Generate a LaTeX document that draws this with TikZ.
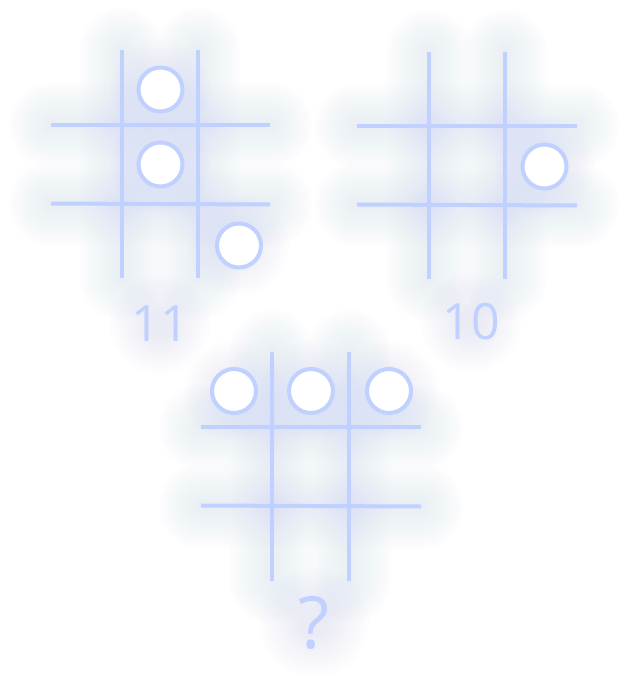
\documentclass[tikz,border=0pt]{standalone}
\usepackage{fontspec}
\setmainfont{Open Sans}
\definecolor{linec}{RGB}{192,208,255}
\definecolor{glowc}{RGB}{178,188,245}
\tikzset{
  gridline/.style={linec, line width=4pt},
  mark circle/.style={draw=linec, line width=4pt, fill=white},
  label text/.style={text=linec, inner sep=0pt, font=\fontsize{50}{50}\selectfont},
  glow/.style={glowc, line cap=round, opacity=0.015},
}
\newcommand\glowline[2]{%
  \foreach \w in {84,78,...,6}{\draw[glow, line width=\w pt] #1 -- #2;}}
\newcommand\glowdot[2]{%
  \foreach \r in {50,46,...,14}{\fill[glowc, opacity=0.022] #1 circle (\r*#2 pt);}}
\begin{document}
\begin{tikzpicture}[x=1pt,y=-1pt]
\useasboundingbox (0,0) rectangle (628,700);
\fill[white] (0,0) rectangle (628,700);
% ---------- glow ----------
% grid 1
\glowline{(122,50)}{(122,278)}
\glowline{(198,50)}{(198,278)}
\glowline{(51,125)}{(270,125)}
\glowline{(51,203.5)}{(270,204.5)}
\glowdot{(160.5,89.5)}{1}
\glowdot{(160.5,164.5)}{1}
\glowdot{(239,245.5)}{1}
\glowdot{(160,324)}{1}
% grid 2
\glowline{(429,52)}{(429,279)}
\glowline{(505,52)}{(505,279)}
\glowline{(357,126)}{(577,126)}
\glowline{(357,204.5)}{(577,205.5)}
\glowdot{(544.5,166.5)}{1}
\glowdot{(471,322)}{1}
% grid 3
\glowline{(272,352)}{(272,581)}
\glowline{(349,352)}{(349,581)}
\glowline{(201,427)}{(421,427)}
\glowline{(201,505.5)}{(421,506.5)}
\glowdot{(234,391)}{1}
\glowdot{(311,391)}{1}
\glowdot{(389,391)}{1}
\glowdot{(314,622)}{1.1}
% ---------- grid 1 ----------
\draw[gridline] (122,50) -- (122,278);
\draw[gridline] (198,50) -- (198,278);
\draw[gridline] (51,125) -- (270,125);
\draw[gridline] (51,203.5) -- (270,204.5);
\node[mark circle, circle, minimum size=44pt, inner sep=0pt] (a1) at (160.5,89.5) {};
\node[mark circle, circle, minimum size=44pt, inner sep=0pt] (a2) at (160.5,164.5) {};
\node[mark circle, circle, minimum size=44pt, inner sep=0pt] (a3) at (239,245.5) {};
\node[label text] (l1) at (160,324) {11};
% ---------- grid 2 ----------
\draw[gridline] (429,52) -- (429,279);
\draw[gridline] (505,52) -- (505,279);
\draw[gridline] (357,126) -- (577,126);
\draw[gridline] (357,204.5) -- (577,205.5);
\node[mark circle, circle, minimum size=44pt, inner sep=0pt] (b1) at (544.5,166.5) {};
\node[label text] (l2) at (471,322) {10};
% ---------- grid 3 ----------
\draw[gridline] (272,352) -- (272,581);
\draw[gridline] (349,352) -- (349,581);
\draw[gridline] (201,427) -- (421,427);
\draw[gridline] (201,505.5) -- (421,506.5);
\node[mark circle, circle, minimum size=44pt, inner sep=0pt] (c1) at (234,391) {};
\node[mark circle, circle, minimum size=44pt, inner sep=0pt] (c2) at (311,391) {};
\node[mark circle, circle, minimum size=44pt, inner sep=0pt] (c3) at (389,391) {};
\node[label text, font=\fontsize{72}{72}\selectfont] (l3) at (314,622.5) {?};
\end{tikzpicture}
\end{document}
